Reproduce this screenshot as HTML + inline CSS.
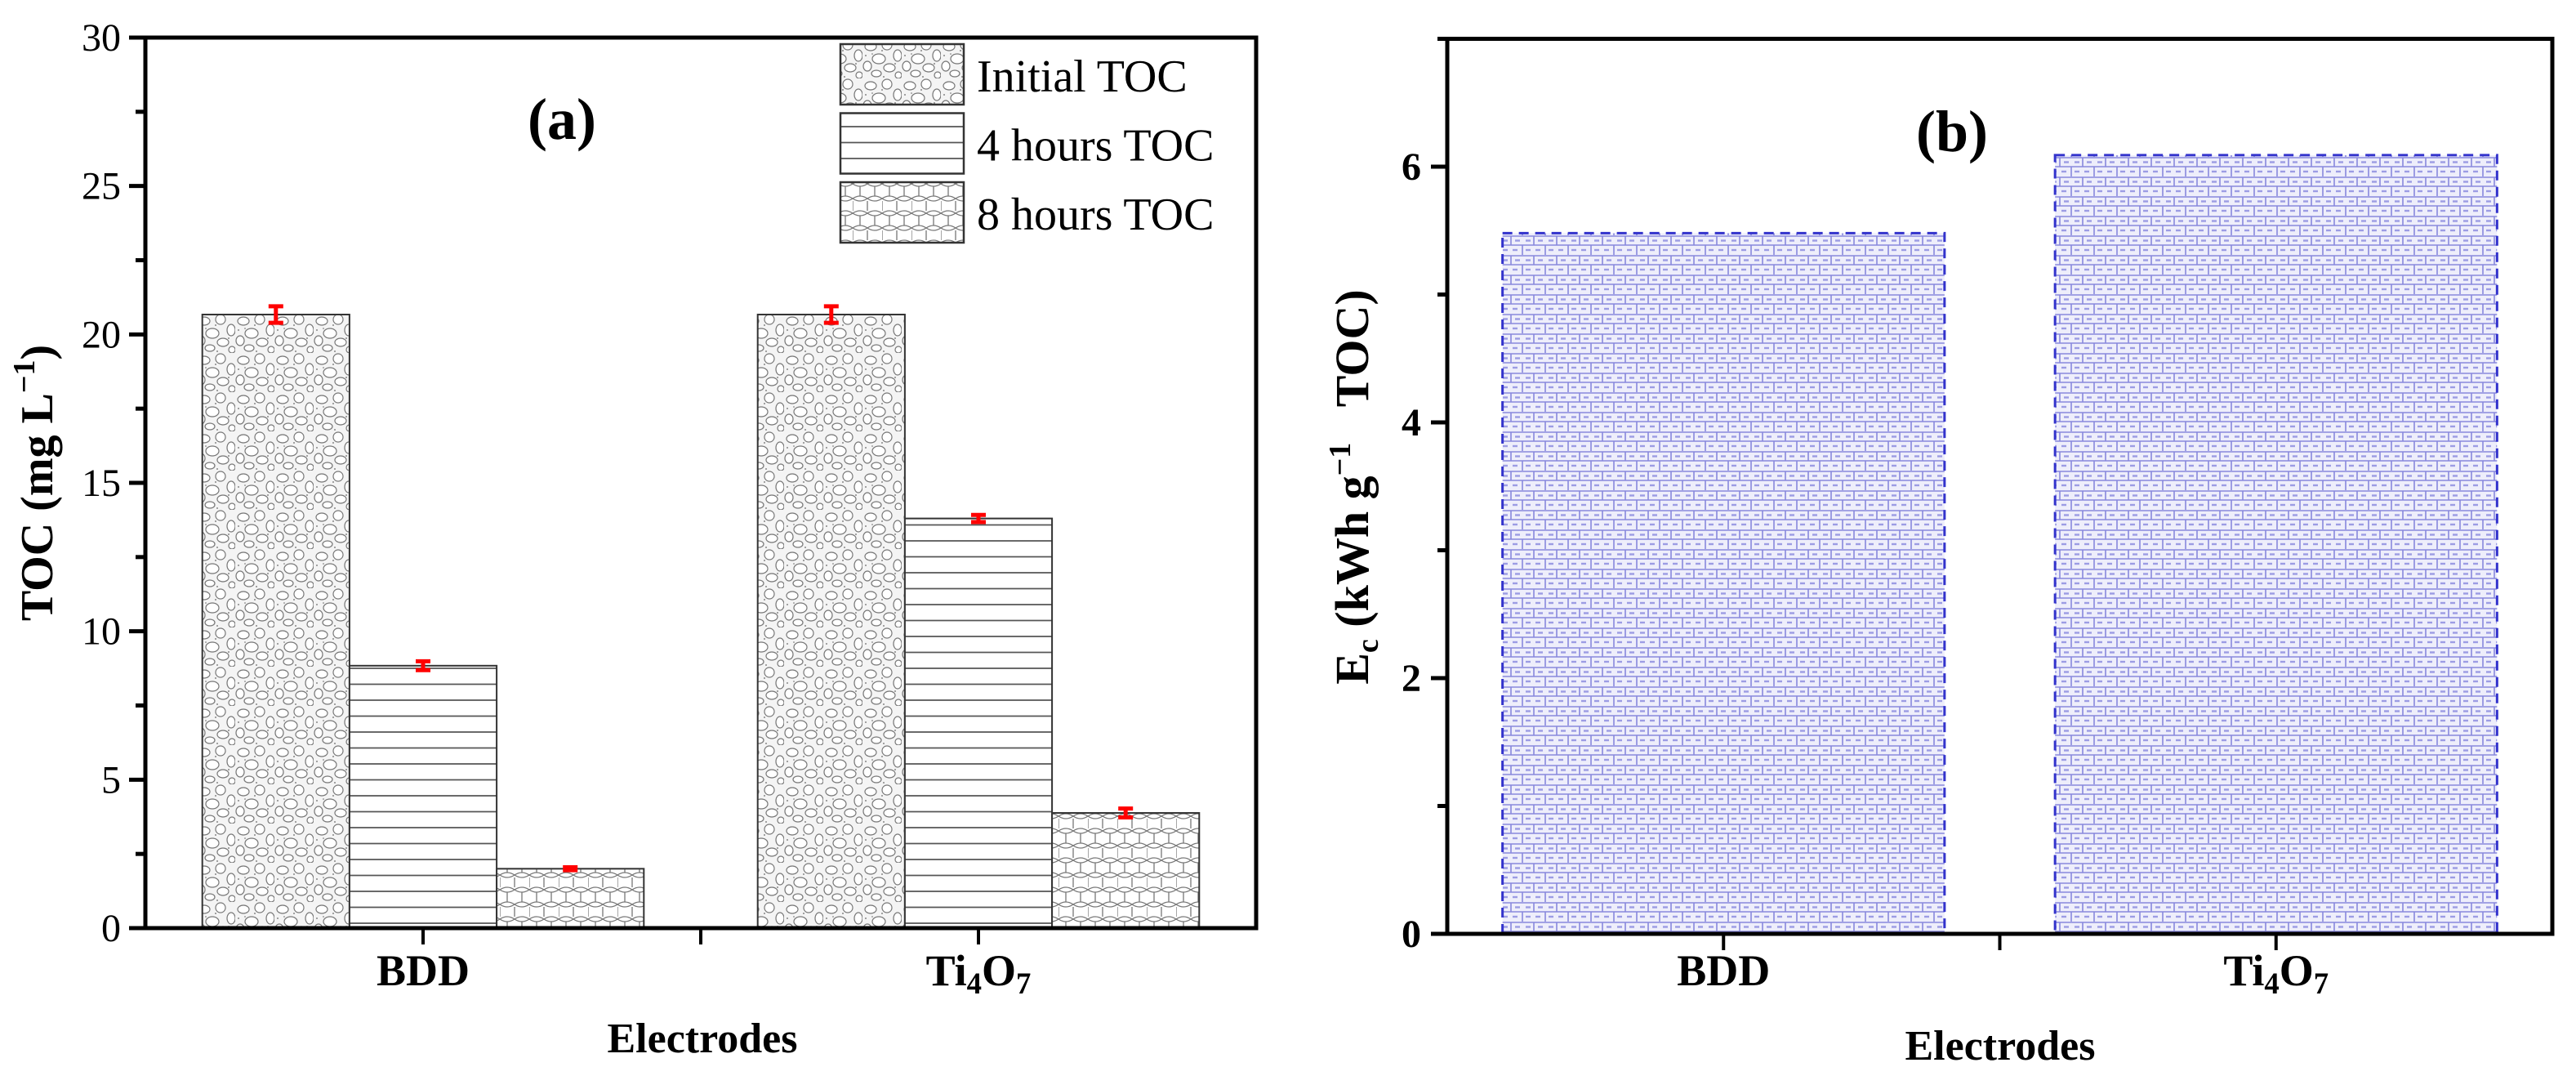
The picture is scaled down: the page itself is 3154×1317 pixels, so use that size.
<!DOCTYPE html>
<html><head><meta charset="utf-8">
<style>
html,body{margin:0;padding:0;background:#fff;}
svg{display:block;font-family:"Liberation Serif",serif;}
</style></head>
<body>
<svg id="chart" width="3154" height="1317" viewBox="0 0 3154 1317" xmlns="http://www.w3.org/2000/svg">
<defs>
  <pattern id="stone" patternUnits="userSpaceOnUse" width="48" height="48">
    <rect width="48" height="48" fill="#f4f4f4"/>
    <g fill="#fff" stroke="#777" stroke-width="1.2">
      <ellipse cx="10" cy="9" rx="7" ry="5"/>
      <ellipse cx="30" cy="7" rx="6" ry="6"/>
      <ellipse cx="43" cy="20" rx="5" ry="7"/>
      <ellipse cx="20" cy="24" rx="8" ry="6"/>
      <ellipse cx="6" cy="33" rx="5" ry="6"/>
      <ellipse cx="33" cy="35" rx="7" ry="5"/>
      <ellipse cx="17" cy="42" rx="6" ry="4"/>
      <ellipse cx="44" cy="44" rx="4" ry="4"/>
    </g>
    <g fill="#666"><circle cx="24" cy="14" r="0.9"/><circle cx="4" cy="20" r="0.9"/><circle cx="40" cy="30" r="0.9"/><circle cx="26" cy="46" r="0.9"/><circle cx="12" cy="18" r="0.8"/></g>
  </pattern>
  <pattern id="hlines" patternUnits="userSpaceOnUse" width="40" height="19.5">
    <rect width="40" height="19.5" fill="#fff"/>
    <line x1="0" y1="18.5" x2="40" y2="18.5" stroke="#555" stroke-width="1.8"/>
  </pattern>
  <pattern id="brick" patternUnits="userSpaceOnUse" width="36" height="36">
    <rect width="36" height="36" fill="#fff"/>
    <g stroke="#777" stroke-width="1.3" fill="none">
      <path d="M0 9 Q9 3 18 9 Q27 3 36 9"/>
      <path d="M0 9 Q9 15 18 9 Q27 15 36 9"/>
      <path d="M0 27 Q9 21 18 27 Q27 21 36 27"/>
      <path d="M0 27 Q9 33 18 27 Q27 33 36 27"/>
      <line x1="9" y1="12" x2="9" y2="24"/><line x1="27" y1="12" x2="27" y2="24"/>
      <line x1="0" y1="30" x2="0" y2="36"/><line x1="18" y1="30" x2="18" y2="36"/>
      <line x1="0" y1="0" x2="0" y2="6"/><line x1="18" y1="0" x2="18" y2="6"/>
    </g>
  </pattern>
  <pattern id="blue" patternUnits="userSpaceOnUse" width="28" height="24">
    <rect width="28" height="24" fill="#eeeefb"/>
    <g stroke="#8888dd" stroke-width="1.6" fill="none">
      <line x1="0" y1="1" x2="28" y2="1"/>
      <line x1="0" y1="12" x2="28" y2="12"/>
      <line x1="2" y1="1" x2="2" y2="12"/>
      <line x1="16" y1="12" x2="16" y2="24"/>
    </g>
    <g stroke="#9c9ce4" stroke-width="2.4">
      <line x1="7" y1="6.5" x2="13" y2="6.5"/><line x1="20" y1="6.5" x2="26" y2="6.5"/>
      <line x1="4" y1="18" x2="10" y2="18"/><line x1="20" y1="18" x2="26" y2="18"/>
    </g>
  </pattern>
</defs>
<g id="panelA"></g>
<g id="panelB"></g>
</svg>
<script>
const categoriesA = ["BDD", "Ti4O7"];
const seriesNames = ["Initial TOC", "4 hours TOC", "8 hours TOC"];
const initialTOC = [20.67, 20.67];
const hours4TOC = [8.84, 13.8];
const hours8TOC = [2.0, 3.88];
const initialErr = [0.28, 0.28];
const hours4Err = [0.15, 0.12];
const hours8Err = [0.05, 0.15];
const yTicksA = [0, 5, 10, 15, 20, 25, 30];
const categoriesB = ["BDD", "Ti4O7"];
const ecValues = [5.48, 6.09];
const yTicksB = [0, 2, 4, 6];

const NS = "http://www.w3.org/2000/svg";
function mk(parent, tag, attrs, text) {
  const e = document.createElementNS(NS, tag);
  for (const k in attrs) e.setAttribute(k, attrs[k]);
  if (text !== undefined) e.textContent = text;
  parent.appendChild(e);
  return e;
}
function catLabel(parent, x, y, name, size) {
  const t = mk(parent, "text", {x: x, y: y, "text-anchor": "middle", "font-size": size, "font-weight": "bold"});
  
  
  if (name === "Ti4O7") {
    mk(t, "tspan", {}, "Ti");
    mk(t, "tspan", {"font-size": size * 0.68, dy: 10}, "4");
    mk(t, "tspan", {dy: -10}, "O");
    mk(t, "tspan", {"font-size": size * 0.68, dy: 10}, "7");
  } else t.textContent = name;
  return t;
}

/* ---------- Panel A ---------- */
(function () {
  const g = document.getElementById("panelA");
  const L = 178, R = 1538, T = 46, B = 1136;
  const ymax = 30, xmin = 0.5, xmax = 2.5;
  const y = v => B - v / ymax * (B - T);
  const x = v => L + (v - xmin) / (xmax - xmin) * (R - L);
  const bw = 0.265;
  const w = bw * (R - L) / (xmax - xmin);
  const pats = ["url(#stone)", "url(#hlines)", "url(#brick)"];
  const vals = [initialTOC, hours4TOC, hours8TOC];
  const errs = [initialErr, hours4Err, hours8Err];
  for (let c = 0; c < categoriesA.length; c++) {
    for (let s = 0; s < 3; s++) {
      const cx = x(c + 1) + (s - 1) * w;
      const r = mk(g, "rect", {x: cx - w / 2, y: y(vals[s][c]), width: w, height: B - y(vals[s][c]), fill: pats[s], stroke: "#333", "stroke-width": 2});
      
      
      const hi = y(vals[s][c] + errs[s][c]), lo = y(vals[s][c] - errs[s][c]);
      const e = mk(g, "path", {d: `M${cx} ${hi}V${lo}M${cx - 9} ${hi}h18M${cx - 9} ${lo}h18`, stroke: "#f00", "stroke-width": 5, fill: "none"});
      
      
    }
  }
  const frame = mk(g, "rect", {x: L, y: T, width: R - L, height: B - T, fill: "none", stroke: "#000", "stroke-width": 5});
  
  
  for (let i = 0; i < yTicksA.length; i++) {
    const v = yTicksA[i];
    mk(g, "line", {x1: L - 20, x2: L, y1: y(v), y2: y(v), stroke: "#000", "stroke-width": 5});
    if (i < yTicksA.length - 1) mk(g, "line", {x1: L - 12, x2: L, y1: y(v + 2.5), y2: y(v + 2.5), stroke: "#000", "stroke-width": 5});
    const t = mk(g, "text", {x: L - 30, y: y(v) + 16, "text-anchor": "end", "font-size": 48}, String(v));
    
    
  }
  [1, 1.5, 2].forEach(v => mk(g, "line", {x1: x(v), x2: x(v), y1: B, y2: B + 20, stroke: "#000", "stroke-width": 4}));
  categoriesA.forEach((c, i) => catLabel(g, x(i + 1), 1206, c, 54));
  const xt = mk(g, "text", {x: 860, y: 1288, "text-anchor": "middle", "font-size": 52, "font-weight": "bold"}, "Electrodes");
  
  
  const yt = mk(g, "text", {transform: "translate(64,591) rotate(-90)", "text-anchor": "middle", "font-size": 56, "font-weight": "bold"});
  
  
  mk(yt, "tspan", {}, "TOC (mg L");
  mk(yt, "tspan", {"font-size": 38, dy: -22}, "−1");
  mk(yt, "tspan", {dy: 22}, ")");
  const pl = mk(g, "text", {x: 688, y: 170, "text-anchor": "middle", "font-size": 72, "font-weight": "bold"}, "(a)");
  
  
  const lg = mk(g, "g", {});
  
  
  for (let s = 0; s < 3; s++) {
    const yy = 54 + s * 84.5;
    const en = mk(lg, "g", {});
    
    
    mk(en, "rect", {x: 1029, y: yy, width: 151, height: 74, fill: pats[s], stroke: "#333", "stroke-width": 2.5});
    mk(en, "text", {x: 1196, y: yy + 58, "font-size": 56}, seriesNames[s]);
  }
})();

/* ---------- Panel B ---------- */
(function () {
  const g = document.getElementById("panelB");
  const L = 1772, R = 3125, B = 1143, unit = 156.5;
  const ymax = 7, xmin = 0.5, xmax = 2.5;
  const T = B - ymax * unit;
  const y = v => B - v * unit;
  const x = v => L + (v - xmin) / (xmax - xmin) * (R - L);
  const w = 0.8 * (R - L) / (xmax - xmin);
  ecValues.forEach((v, i) => {
    const r = mk(g, "rect", {x: x(i + 1) - w / 2, y: y(v), width: w, height: B - y(v), fill: "url(#blue)", stroke: "#3333cc", "stroke-width": 3, "stroke-dasharray": "12 8"});
    
    
  });
  const frame = mk(g, "rect", {x: L, y: T, width: R - L, height: B - T, fill: "none", stroke: "#000", "stroke-width": 5});
  
  
  yTicksB.forEach(v => {
    mk(g, "line", {x1: L - 20, x2: L, y1: y(v), y2: y(v), stroke: "#000", "stroke-width": 5});
    mk(g, "line", {x1: L - 12, x2: L, y1: y(v + 1), y2: y(v + 1), stroke: "#000", "stroke-width": 5});
    const t = mk(g, "text", {x: L - 32, y: y(v) + 16, "text-anchor": "end", "font-size": 48, "font-weight": "bold"}, String(v));
    
    
  });
  [1, 1.5, 2].forEach(v => mk(g, "line", {x1: x(v), x2: x(v), y1: B, y2: B + 20, stroke: "#000", "stroke-width": 4}));
  categoriesB.forEach((c, i) => catLabel(g, x(i + 1), 1206, c, 54));
  const xt = mk(g, "text", {x: 2449, y: 1297, "text-anchor": "middle", "font-size": 52, "font-weight": "bold"}, "Electrodes");
  
  
  const yt = mk(g, "text", {transform: "translate(1675,596) rotate(-90)", "text-anchor": "middle", "font-size": 58, "font-weight": "bold", "xml:space": "preserve"});
  
  
  mk(yt, "tspan", {}, "E");
  mk(yt, "tspan", {"font-size": 38, dy: 12}, "c");
  mk(yt, "tspan", {dy: -12}, "\u00a0(kWh g");
  mk(yt, "tspan", {"font-size": 38, dy: -22}, "−1");
  mk(yt, "tspan", {dy: 22}, "\u00a0\u00a0\u00a0TOC)");
  const pl = mk(g, "text", {x: 2390, y: 185, "text-anchor": "middle", "font-size": 72, "font-weight": "bold"}, "(b)");
  
  
})();
</script>
</body></html>
